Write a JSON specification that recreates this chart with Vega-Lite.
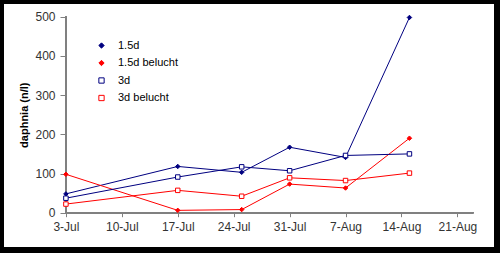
{
  "$schema": "https://vega.github.io/schema/vega-lite/v6.json",
  "width": 490,
  "height": 243,
  "autosize": {"type": "none"},
  "padding": {"left": 4, "top": 4, "right": 6, "bottom": 6},
  "background": "black",
  "config": {
    "view": {"fill": "white", "stroke": null},
    "font": "Liberation Sans",
    "legend": {
      "orient": "none", "legendX": 92, "legendY": 36, "title": null, "padding": 0,
      "rowPadding": 5.5, "labelOffset": 11,
      "labelFont": "Liberation Sans", "labelFontSize": 11, "labelColor": "black",
      "symbolSize": 28, "symbolStrokeWidth": 1
    }
  },
  "data": {
    "values": [
      {"series": "1.5d", "date": "2000-07-03", "value": 48},
      {"series": "1.5d", "date": "2000-07-17", "value": 118},
      {"series": "1.5d", "date": "2000-07-25", "value": 103},
      {"series": "1.5d", "date": "2000-07-31", "value": 167},
      {"series": "1.5d", "date": "2000-08-07", "value": 141},
      {"series": "1.5d", "date": "2000-08-15", "value": 498},
      {"series": "1.5d belucht", "date": "2000-07-03", "value": 98},
      {"series": "1.5d belucht", "date": "2000-07-17", "value": 6},
      {"series": "1.5d belucht", "date": "2000-07-25", "value": 8},
      {"series": "1.5d belucht", "date": "2000-07-31", "value": 73},
      {"series": "1.5d belucht", "date": "2000-08-07", "value": 63},
      {"series": "1.5d belucht", "date": "2000-08-15", "value": 190},
      {"series": "3d", "date": "2000-07-03", "value": 37},
      {"series": "3d", "date": "2000-07-17", "value": 91},
      {"series": "3d", "date": "2000-07-25", "value": 117},
      {"series": "3d", "date": "2000-07-31", "value": 107},
      {"series": "3d", "date": "2000-08-07", "value": 146},
      {"series": "3d", "date": "2000-08-15", "value": 150},
      {"series": "3d belucht", "date": "2000-07-03", "value": 22},
      {"series": "3d belucht", "date": "2000-07-17", "value": 57},
      {"series": "3d belucht", "date": "2000-07-25", "value": 42},
      {"series": "3d belucht", "date": "2000-07-31", "value": 89},
      {"series": "3d belucht", "date": "2000-08-07", "value": 82},
      {"series": "3d belucht", "date": "2000-08-15", "value": 101}
    ]
  },
  "layer": [
    {
      "mark": {"type": "rule", "color": "#808080", "strokeWidth": 1},
      "encoding": {
        "x": {"datum": {"year": 2000, "month": 7, "date": 3, "utc": true}, "type": "temporal", "scale": {"type": "utc"}},
        "x2": {"datum": {"year": 2000, "month": 8, "date": 23, "utc": true}},
        "y": {"datum": 0, "type": "quantitative"}
      }
    },
    {
      "mark": {"type": "rule", "color": "#808080", "strokeWidth": 1},
      "encoding": {
        "x": {"datum": {"year": 2000, "month": 7, "date": 3, "utc": true}, "type": "temporal", "scale": {"type": "utc"}},
        "y": {"datum": 0, "type": "quantitative"},
        "y2": {"datum": 500}
      }
    },
    {
      "mark": {"type": "line", "strokeWidth": 1},
      "encoding": {
        "x": {
          "field": "date", "type": "temporal",
          "scale": {"type": "utc", "domain": [{"year": 2000, "month": 6, "date": 25, "hours": 6, "utc": true}, {"year": 2000, "month": 8, "date": 25, "hours": 14, "utc": true}]},
          "axis": {
            "orient": "bottom", "offset": -34.3, "title": null,
            "values": [
              {"year": 2000, "month": 7, "date": 3, "utc": true},
              {"year": 2000, "month": 7, "date": 10, "utc": true},
              {"year": 2000, "month": 7, "date": 17, "utc": true},
              {"year": 2000, "month": 7, "date": 24, "utc": true},
              {"year": 2000, "month": 7, "date": 31, "utc": true},
              {"year": 2000, "month": 8, "date": 7, "utc": true},
              {"year": 2000, "month": 8, "date": 14, "utc": true},
              {"year": 2000, "month": 8, "date": 21, "utc": true}
            ],
            "labelExpr": "utcFormat(datum.value, '%-d-%b')",
            "domain": false, "grid": false,
            "tickColor": "#808080", "tickSize": 4, "labelPadding": 5,
            "labelFont": "Liberation Sans", "labelFontSize": 12, "labelColor": "#333",
            "labelFlush": false, "labelOverlap": false, "labelBound": false
          }
        },
        "y": {
          "field": "value", "type": "quantitative",
          "scale": {"domain": [-87.5, 532.4], "nice": false, "zero": false},
          "axis": {
            "orient": "left", "offset": -62,
            "values": [0, 100, 200, 300, 400, 500],
            "domain": false, "grid": false,
            "tickColor": "#808080", "tickSize": 6, "labelPadding": 5,
            "labelFont": "Liberation Sans", "labelFontSize": 12, "labelColor": "#333",
            "labelOverlap": false, "labelBound": false, "labelFlush": false,
            "title": "daphnia (n/l)",
            "titleFont": "Liberation Sans", "titleFontSize": 11, "titleFontWeight": "bold", "titleColor": "black",
            "titleAngle": -90, "titleBaseline": "bottom", "titleAlign": "center",
            "titleX": -36.7, "titleY": 110.7
          }
        },
        "color": {
          "field": "series", "type": "nominal",
          "scale": {"domain": ["1.5d", "1.5d belucht", "3d", "3d belucht"], "range": ["#000080", "#ff0000", "#000080", "#ff0000"]}
        }
      }
    },
    {
      "mark": {"type": "point", "strokeWidth": 1, "opacity": 1, "size": 20},
      "encoding": {
        "x": {"field": "date", "type": "temporal", "scale": {"type": "utc"}},
        "y": {"field": "value", "type": "quantitative"},
        "shape": {
          "field": "series", "type": "nominal",
          "scale": {"domain": ["1.5d", "1.5d belucht", "3d", "3d belucht"], "range": ["diamond", "diamond", "square", "square"]}
        },
        "fill": {
          "field": "series", "type": "nominal",
          "scale": {"domain": ["1.5d", "1.5d belucht", "3d", "3d belucht"], "range": ["#000080", "#ff0000", "white", "white"]}
        },
        "stroke": {
          "field": "series", "type": "nominal",
          "scale": {"domain": ["1.5d", "1.5d belucht", "3d", "3d belucht"], "range": ["#000080", "#ff0000", "#000080", "#ff0000"]}
        }
      }
    }
  ]
}
